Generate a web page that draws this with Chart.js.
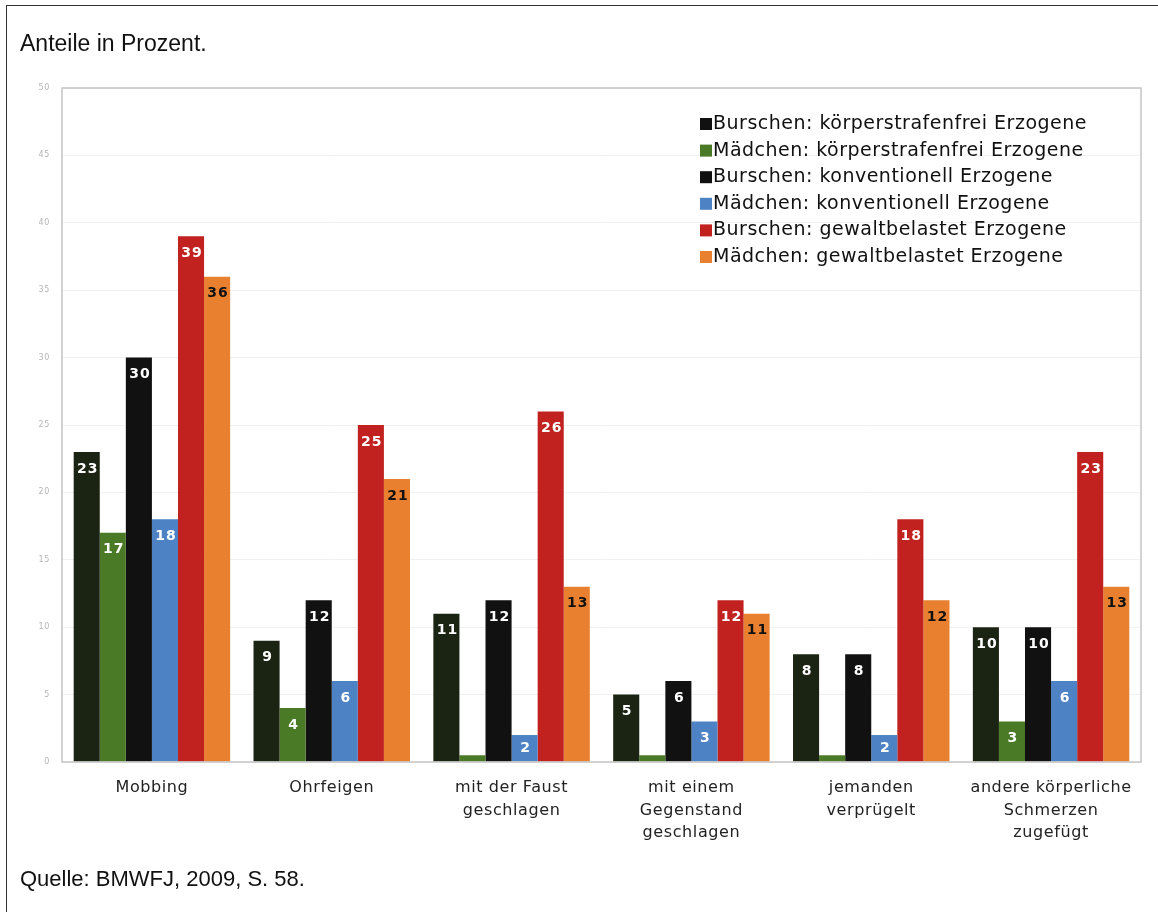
<!DOCTYPE html>
<html lang="de">
<head>
<meta charset="utf-8">
<title>Anteile in Prozent</title>
<script src="https://cdn.jsdelivr.net/npm/chart.js@4"></script>
<style>
  html, body { margin: 0; padding: 0; background: #fff; }
  #frame {
    position: relative;
    width: 1158px;
    height: 912px;
    overflow: hidden;
  }
  #frame::before {
    content: '';
    position: absolute;
    left: 6px; top: 5px; right: 0; bottom: 0;
    border-left: 1.5px solid #333;
    border-top: 1.5px solid #333;
  }
  #titel {
    position: absolute; left: 20px; top: 30px;
    font: 23px "Liberation Sans", Arial, sans-serif; color: #111;
  }
  #quelle {
    position: absolute; left: 20px; top: 866px;
    font: 22px "Liberation Sans", Arial, sans-serif; color: #111;
  }
  #wrap { position: absolute; left: 0; top: 0; width: 1158px; height: 912px; }
</style>
</head>
<body>
<div id="frame">
  <div id="wrap"><canvas id="chart"></canvas></div>
  <div id="titel">Anteile in Prozent.</div>
  <div id="quelle">Quelle: BMWFJ, 2009, S. 58.</div>
</div>
<script>
const kategorien = [
    'Mobbing',
    'Ohrfeigen',
    ['mit der Faust', 'geschlagen'],
    ['mit einem', 'Gegenstand', 'geschlagen'],
    ['jemanden', 'verprügelt'],
    ['andere körperliche', 'Schmerzen', 'zugefügt']
];
const serien = [
    'Burschen: körperstrafenfrei Erzogene',
    'Mädchen: körperstrafenfrei Erzogene',
    'Burschen: konventionell Erzogene',
    'Mädchen: konventionell Erzogene',
    'Burschen: gewaltbelastet Erzogene',
    'Mädchen: gewaltbelastet Erzogene'
];
const burschenFrei = [23, 9, 11, 5, 8, 10];
const maedchenFrei = [17, 4, 0.5, 0.5, 0.5, 3];
const burschenKonv = [30, 12, 12, 6, 8, 10];
const maedchenKonv = [18, 6, 2, 3, 2, 6];
const burschenGewalt = [39, 25, 26, 12, 18, 23];
const maedchenGewalt = [36, 21, 13, 11, 12, 13];
const yTicks = [0, 5, 10, 15, 20, 25, 30, 35, 40, 45, 50];

const farben = ['#1b2312', '#4b7a26', '#111111', '#4d82c4', '#c1221f', '#e9802f'];
const textFarben = ['#fff', '#fff', '#fff', '#fff', '#fff', '#111'];
const werte = [burschenFrei, maedchenFrei, burschenKonv, maedchenKonv, burschenGewalt, maedchenGewalt];

// leicht gesperrte Schrift für die Achsenbeschriftung
const sperrPlugin = {
    id: 'sperrung',
    beforeDraw(chart) { chart.ctx.letterSpacing = '0.6px'; }
};

// Werte oben in den Balken schreiben (unter 1 % ohne Beschriftung)
const wertPlugin = {
    id: 'wertLabels',
    afterDatasetsDraw(chart) {
        const ctx = chart.ctx;
        ctx.save();
        ctx.font = 'bold 14px "DejaVu Sans", sans-serif';
        ctx.letterSpacing = '1px';
        ctx.textAlign = 'center';
        ctx.textBaseline = 'middle';
        chart.data.datasets.forEach((ds, i) => {
            chart.getDatasetMeta(i).data.forEach((bar, j) => {
                const v = ds.data[j];
                if (v < 1) return;
                const y = Math.min(bar.y + 17, (bar.y + bar.base) / 2);
                ctx.fillStyle = textFarben[i];
                ctx.fillText(String(v), bar.x + 1, y);
            });
        });
        ctx.restore();
    }
};

// Rahmen um die Zeichenfläche und Legende oben rechts
const rahmenPlugin = {
    id: 'rahmen',
    afterDraw(chart) {
        const { ctx, chartArea: a } = chart;
        ctx.save();
        ctx.strokeStyle = '#c4c4c4';
        ctx.lineWidth = 1.5;
        ctx.strokeRect(a.left, a.top, a.right - a.left, a.bottom - a.top);

        ctx.font = '19px "DejaVu Sans", sans-serif';
        ctx.letterSpacing = '0.5px';
        ctx.textBaseline = 'middle';
        chart.data.datasets.forEach((ds, i) => {
            const y = 124 + i * 26.6;
            ctx.fillStyle = i === 0 ? '#111' : ds.backgroundColor;
            ctx.fillRect(700, y - 6, 12, 12);
            ctx.fillStyle = '#111';
            ctx.fillText(ds.label, 713, y);
        });
        ctx.restore();
    }
};

new Chart(document.getElementById('chart'), {
    type: 'bar',
    data: {
        labels: kategorien,
        datasets: serien.map((name, i) => ({
            label: name,
            data: werte[i],
            backgroundColor: farben[i],
            borderWidth: 0
        }))
    },
    options: {
        responsive: true,
        maintainAspectRatio: false,
        animation: false,
        datasets: { bar: { categoryPercentage: 0.87, barPercentage: 1.0 } },
        layout: { padding: { left: 22, top: 88, right: 17, bottom: 60 } },
        plugins: {
            legend: { display: false },
            tooltip: { enabled: false }
        },
        scales: {
            x: {
                grid: { display: false },
                border: { display: false },
                ticks: {
                    color: '#222',
                    padding: 7,
                    maxRotation: 0,
                    font: { family: '"DejaVu Sans", sans-serif', size: 16, lineHeight: 1.4 }
                },
                afterFit: s => { s.height = 90; }
            },
            y: {
                min: 0,
                max: 50,
                afterBuildTicks: s => { s.ticks = yTicks.map(v => ({ value: v })); },
                grid: { color: '#f1f1f1', drawTicks: false },
                border: { display: false },
                ticks: {
                    color: '#b5b5b5',
                    padding: 12,
                    font: { family: '"DejaVu Sans", sans-serif', size: 8 }
                },
                afterFit: s => { s.width = 40; }
            }
        }
    },
    plugins: [sperrPlugin, wertPlugin, rahmenPlugin]
});
</script>
</body>
</html>
